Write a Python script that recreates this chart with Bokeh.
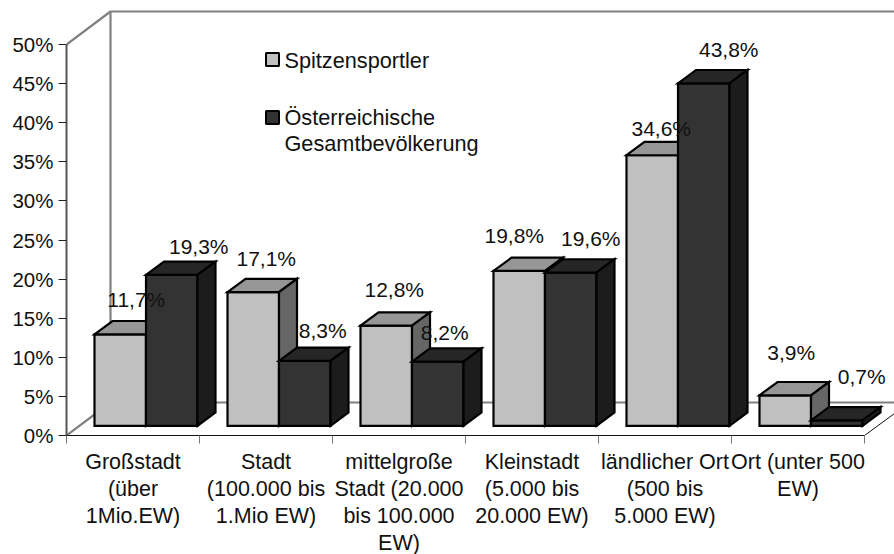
from bokeh.plotting import figure
from bokeh.models import ColumnDataSource, FixedTicker, PrintfTickFormatter, Range1d
from bokeh.core.properties import value
from bokeh.embed import file_html
from bokeh.resources import INLINE

categories = ["Großstadt\n(über\n1Mio.EW)", "Stadt\n(100.000 bis\n1.Mio EW)",
              "mittelgroße\nStadt (20.000\nbis 100.000\nEW)", "Kleinstadt\n(5.000 bis\n20.000 EW)",
              "ländlicher Ort\n(500 bis\n5.000 EW)", "Ort (unter 500\nEW)"]
spitzensportler = [11.7, 17.1, 12.8, 19.8, 34.6, 3.9]
bevoelkerung = [19.3, 8.3, 8.2, 19.6, 43.8, 0.7]
series_names = ["Spitzensportler", "Österreichische\nGesamtbevölkerung"]
y_ticks = [0, 5, 10, 15, 20, 25, 30, 35, 40, 45, 50]

FONT = "Liberation Sans"
PX_X, PX_Y = 133.0, 7.82
X0, Y0 = 66.0, 435.0
def dx(px): return px / PX_X
def dy(px): return px / PX_Y
def fx(px): return (px - X0) / PX_X
def fy(py): return (Y0 - py) / PX_Y

W, H = 894, 554
right = (W - X0) / PX_X
p = figure(width=W, height=H, frame_width=W - 66, frame_height=435,
           output_backend="svg", toolbar_location=None,
           x_range=Range1d(0, right), y_range=Range1d(0, Y0 / PX_Y),
           min_border_left=66, min_border_right=0, min_border_top=0, min_border_bottom=119)
p.outline_line_color = None
p.grid.visible = False

ax = p.yaxis[0]
ax.ticker = FixedTicker(ticks=y_ticks)
ax.formatter = PrintfTickFormatter(format="%d%%")
ax.bounds = (0, 50)
ax.major_tick_in = 0; ax.major_tick_out = 8; ax.minor_tick_out = 0; ax.minor_tick_in = 0
ax.major_tick_line_color = "#222222"; ax.major_tick_line_width = 1
ax.axis_line_color = "#555555"; ax.axis_line_width = 2
ax.major_label_standoff = 5
ax.major_label_text_font = FONT; ax.major_label_text_font_size = "20.5px"; ax.major_label_text_color = "#111111"

bx = p.xaxis[0]
bx.ticker = FixedTicker(ticks=[i + 0.5 for i in range(6)], minor_ticks=list(range(7)))
bx.major_label_overrides = {i + 0.5: c for i, c in enumerate(categories)}
bx.bounds = (0, 6)
bx.major_tick_in = 0; bx.major_tick_out = 0; bx.minor_tick_in = 0; bx.minor_tick_out = 8
bx.minor_tick_line_color = "#777777"; bx.minor_tick_line_width = 1
bx.axis_line_color = "#111111"; bx.axis_line_width = 1
bx.major_label_standoff = 6
bx.major_label_text_font = FONT; bx.major_label_text_font_size = "21.5px"; bx.major_label_text_color = "#111111"
bx.major_label_text_line_height = 1.13
bx.major_label_orientation = "horizontal"

# walls and floor
wall_dx, wall_dy = dx(44), dy(33)
p.multi_line(xs=[[0, wall_dx, right], [wall_dx, wall_dx], [0, wall_dx, right]],
             ys=[[50, 50 + wall_dy, 50 + wall_dy], [wall_dy, 50 + wall_dy], [0, wall_dy, wall_dy]],
             line_color="#808080", line_width=2.2)
p.line([6, 6 + dx(30)], [0, dy(22)], line_color="#111111", line_width=1)

# bars
start, bw = dx(28), dx(51.5)
base = dy(9.7)
sx, sy = dx(18), dy(13.3)
def bar(x0, v):
    x1 = x0 + bw
    return ([x0, x1, x1, x0], [base, base, base + v, base + v],
            [x0, x1, x1 + sx, x0 + sx], [base + v, base + v, base + v + sy, base + v + sy],
            [x1, x1 + sx, x1 + sx, x1], [base, base + sy, base + v + sy, base + v])
for i in range(6):
    for j, (vals, cols) in enumerate([(spitzensportler, ("#c0c0c0", "#969696", "#666666")),
                                      (bevoelkerung, ("#333333", "#262626", "#1c1c1c"))]):
        f = bar(i + start + j * bw, vals[i])
        p.patches([f[0], f[2], f[4]], [f[1], f[3], f[5]], fill_color=list(cols),
                  line_color="#000000", line_width=2.2, line_join="miter")

# data labels (pixel offsets from the middle of each bar's top edge)
off_a = [(16, -35), (13, -34), (8, -36), (-5, -35), (9, -27), (6, -43)]
off_b = [(27, -28), (18, -30), (7, -29), (20, -34), (25, -34), (25, -44)]
for j, (vals, offs) in enumerate([(spitzensportler, off_a), (bevoelkerung, off_b)]):
    src = ColumnDataSource(dict(
        x=[i + start + j * bw + bw / 2 for i in range(6)],
        y=[v + base for v in vals],
        t=[f"{v:.1f}%".replace(".", ",") for v in vals],
        xo=[o[0] for o in offs], yo=[o[1] for o in offs]))
    p.text(x="x", y="y", text="t", x_offset="xo", y_offset="yo", source=src,
           text_font=value(FONT), text_font_size=value("21px"), text_color="#111111",
           text_align="center", text_baseline="middle")

# legend
p.scatter([fx(272), fx(272)], [fy(59), fy(117)], marker="square", size=13,
          fill_color=["#c0c0c0", "#333333"], line_color="#000000", line_width=2)
p.text([fx(284), fx(284)], [fy(60), fy(130)], text=series_names,
       text_font=value(FONT), text_font_size=value("21.7px"), text_color="#111111",
       text_align="left", text_baseline="middle", text_line_height=1.07)

open("out.html", "w").write(file_html(p, INLINE))
